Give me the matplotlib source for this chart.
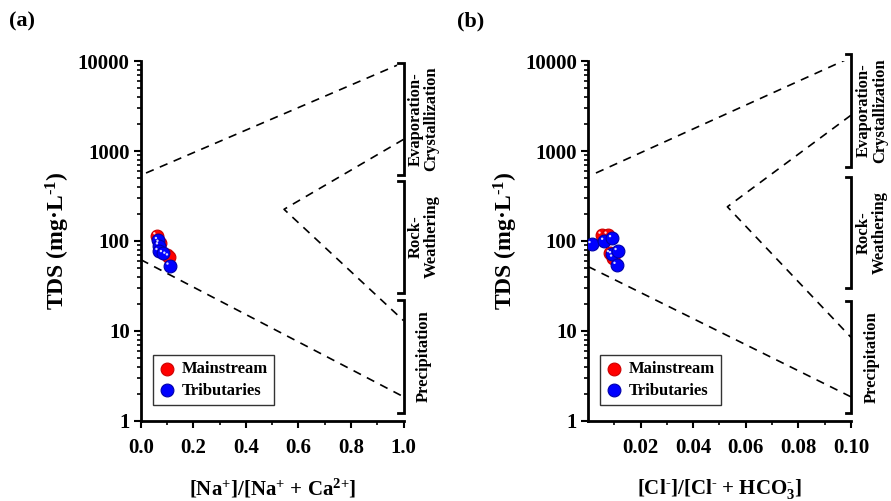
import matplotlib.pyplot as plt
import matplotlib.transforms as mtransforms
from matplotlib.ticker import LogLocator, NullFormatter
import numpy as np

plt.rcParams['font.family'] = ['Liberation Serif', 'DejaVu Serif']
plt.rcParams['font.weight'] = 'bold'
plt.rcParams['mathtext.fontset'] = 'custom'
plt.rcParams['mathtext.rm'] = 'Liberation Serif:bold'
plt.rcParams['mathtext.it'] = 'Liberation Serif:bold'
plt.rcParams['mathtext.bf'] = 'Liberation Serif:bold'

# panel (a): Na/(Na+Ca)
na_main_x = [0.060, 0.072, 0.098, 0.108]
na_main_y = [115, 95, 70, 67]
na_trib_x = [0.066, 0.070, 0.068, 0.085, 0.110]
na_trib_y = [102, 89, 77, 73, 53]

# panel (b): Cl/(Cl+HCO3)
cl_main_x = [0.0052, 0.0075, 0.0084, 0.0096]
cl_main_y = [117, 117, 73, 65]
cl_trib_x = [0.0014, 0.0062, 0.0092, 0.0092, 0.0113, 0.0109]
cl_trib_y = [92, 100, 107, 71, 77, 54]

# Gibbs boundary lines
a_upper_x, a_upper_y = [0.02, 0.975], [570, 9000]
a_mid_x, a_mid_y = [1.0, 0.545, 1.0], [1350, 225, 13]
a_lower_x, a_lower_y = [0.0, 1.0], [62, 1.85]
b_upper_x, b_upper_y = [0.003, 0.0985], [570, 10500]
b_mid_x, b_mid_y = [0.1, 0.053, 0.1], [2500, 240, 8.5]
b_lower_x, b_lower_y = [0.0, 0.1], [52, 1.85]

zones = ['Evaporation-\nCrystallization', 'Rock-\nWeathering', 'Precipitation']
a_brackets = [(541, 9500), (26.4, 464), (1.23, 22)]
b_brackets = [(664, 11970), (30, 514), (1.23, 21.5)]

fig = plt.figure(figsize=(8.91, 5.01), dpi=100)
ax1 = fig.add_axes([0.158, 0.16, 0.295, 0.718])
ax2 = fig.add_axes([0.660, 0.16, 0.295, 0.718])


def sphere(ax, x, y, color, edge, label=None):
    ax.scatter(x, y, s=85, c=color, edgecolors=edge, linewidths=0.8, zorder=3, label=label)
    off = mtransforms.offset_copy(ax.transData, fig=fig, x=-1.6, y=1.6, units='points')
    ax.scatter(x, y, s=3, c='white', edgecolors='none', zorder=4, transform=off, alpha=0.85)


def panel(ax, main_x, main_y, trib_x, trib_y, lines, brackets, text_x, lsp, xlabel, tag):
    for lx, ly in lines:
        ax.plot(lx, ly, color='black', lw=1.2, linestyle=(0, (5, 4)), zorder=2)
    sphere(ax, main_x, main_y, '#ff0000', '#cc0000', 'Mainstream')
    sphere(ax, trib_x, trib_y, '#0000ff', '#0000aa', 'Tributaries')

    ax.set_yscale('log')
    ax.set_ylim(1, 10000)
    ax.set_yticks([1, 10, 100, 1000, 10000])
    ax.set_yticklabels(['1', '10', '100', '1000', '10000'])
    ax.yaxis.set_minor_locator(LogLocator(base=10, subs=np.arange(2, 10)))
    ax.yaxis.set_minor_formatter(NullFormatter())
    for s in ['top', 'right']:
        ax.spines[s].set_visible(False)
    for s in ['left', 'bottom']:
        ax.spines[s].set_linewidth(2)
    ax.tick_params(which='major', direction='out', length=5, width=1.5, labelsize=15, pad=3)
    ax.tick_params(axis='x', which='major', pad=7)
    ax.tick_params(which='minor', direction='out', length=3, width=1.2)
    ax.set_ylabel('TDS (mg·L$^{\\text{-}1}$)', fontsize=17, fontweight='bold', labelpad=4)
    ax.set_xlabel(xlabel, fontsize=15, fontweight='bold', labelpad=14)

    tr = mtransforms.blended_transform_factory(ax.transAxes, ax.transData)
    for (lo, hi), name in zip(brackets, zones):
        ax.plot([0.98, 1.0, 1.0, 0.98], [lo, lo, hi, hi], color='black', lw=2,
                transform=tr, clip_on=False, solid_joinstyle='miter')
        ax.text(text_x, np.sqrt(lo * hi), name, transform=tr, rotation=90,
                ha='center', va='center', fontsize=12, fontweight='bold',
                multialignment='center', linespacing=lsp)

    leg = ax.legend(loc='lower left', bbox_to_anchor=(0.045, 0.045), fontsize=12,
                    frameon=True, fancybox=False, edgecolor='black', handletextpad=0.4,
                    handlelength=1.0, borderpad=0.35, labelspacing=0.35,
                    borderaxespad=0.0, scatterpoints=1)
    leg.get_frame().set_linewidth(1.0)
    ax.text(-0.5, 1.11, tag, transform=ax.transAxes, fontsize=16, fontweight='bold',
            ha='left', va='center')


panel(ax1, na_main_x, na_main_y, na_trib_x, na_trib_y,
      [(a_upper_x, a_upper_y), (a_mid_x, a_mid_y), (a_lower_x, a_lower_y)],
      a_brackets, 1.076, 1.0, '[Na$^{+}$]/[Na$^{+}$ + Ca$^{\\text{2+}}$]', '(a)')
ax1.set_xlim(0, 1.0)
ax1.set_xticks([0.0, 0.2, 0.4, 0.6, 0.8, 1.0])
ax1.set_xticklabels(['0.0', '0.2', '0.4', '0.6', '0.8', '1.0'])
ax1.set_xticks([0.1, 0.3, 0.5, 0.7, 0.9], minor=True)

panel(ax2, cl_main_x, cl_main_y, cl_trib_x, cl_trib_y,
      [(b_upper_x, b_upper_y), (b_mid_x, b_mid_y), (b_lower_x, b_lower_y)],
      b_brackets, 1.08, 1.05, '[Cl$^{\\text{-}}$]/[Cl$^{\\text{-}}$ + HCO$_{3}^{\\text{-}}$]', '(b)')
ax2.set_xlim(0, 0.1)
ax2.set_xticks([0.02, 0.04, 0.06, 0.08, 0.10])
ax2.set_xticklabels(['0.02', '0.04', '0.06', '0.08', '0.10'])
ax2.set_xticks([0.01, 0.03, 0.05, 0.07, 0.09], minor=True)

fig.savefig('out.png', dpi=100)
